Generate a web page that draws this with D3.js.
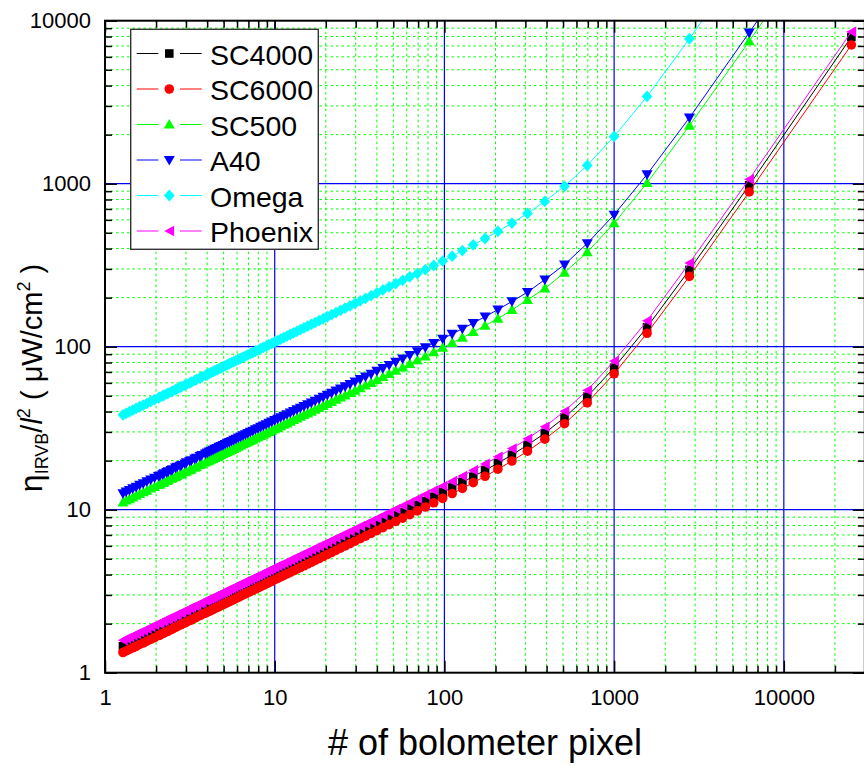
<!DOCTYPE html>
<html>
<head>
<meta charset="utf-8">
<script src="https://cdn.jsdelivr.net/npm/d3@7"></script>
<style>
  html, body { margin: 0; padding: 0; background: #fff; }
  svg { display: block; font-family: "Liberation Sans", Arial, sans-serif; }
</style>
</head>
<body>
<svg id="chart" width="864" height="766"></svg>
<script>
// Number of bolometer pixels (x) for each evaluated point
const pixelCounts = [
  25000, 6250, 2778, 1563, 1000, 694.4, 510.2, 390.6, 308.6, 250,
  206.6, 173.6, 147.9, 127.6, 111.1, 97.66, 86.51, 77.16, 69.25, 62.5,
  56.69, 51.65, 47.26, 43.40, 40, 36.98, 34.29, 31.89, 29.73, 27.78,
  26.01, 24.41, 22.96, 21.63, 20.41, 19.29, 18.26, 17.31, 16.44, 15.63,
  14.87, 14.17, 13.52, 12.91, 12.35, 11.81, 11.32, 10.85, 10.41, 10,
  9.612, 9.246, 8.900, 8.573, 8.264, 7.972, 7.695, 7.432, 7.182, 6.944,
  6.719, 6.504, 6.299, 6.104, 5.917, 5.739, 5.569, 5.407, 5.251, 5.102,
  4.959, 4.823, 4.691, 4.565, 4.444, 4.328, 4.217, 4.109, 4.006, 3.906,
  3.718, 3.629, 3.460, 3.380, 3.228, 3.156, 3.019, 2.954, 2.829, 2.770,
  2.657, 2.603, 2.500, 2.451, 2.356, 2.311, 2.225, 2.184, 2.104, 2.066,
  1.958, 1.858, 1.765, 1.680, 1.600, 1.526, 1.457, 1.392, 1.332, 1.276
];

// eta_IRVB / l^2 in uW/cm^2 for each camera
const sc4000 = [
  7950, 978, 296, 131.7, 74.3, 49.4, 36.8, 29.5, 24.9, 21.7,
  19.3, 17.46, 15.96, 14.73, 13.68, 12.79, 12.01, 11.32, 10.71, 10.17,
  9.67, 9.23, 8.82, 8.45, 8.11, 7.78, 7.50, 7.23, 6.98, 6.75,
  6.53, 6.32, 6.13, 5.95, 5.78, 5.62, 5.47, 5.33, 5.19, 5.06,
  4.94, 4.82, 4.71, 4.60, 4.50, 4.40, 4.31, 4.22, 4.13, 4.05,
  3.97, 3.89, 3.82, 3.75, 3.68, 3.61, 3.55, 3.49, 3.43, 3.37,
  3.32, 3.26, 3.21, 3.16, 3.11, 3.07, 3.02, 2.98, 2.93, 2.89,
  2.85, 2.81, 2.77, 2.73, 2.70, 2.66, 2.63, 2.59, 2.56, 2.53,
  2.47, 2.44, 2.38, 2.35, 2.30, 2.27, 2.22, 2.20, 2.15, 2.13,
  2.09, 2.07, 2.02, 2.00, 1.96, 1.95, 1.91, 1.89, 1.86, 1.84,
  1.79, 1.74, 1.70, 1.66, 1.62, 1.58, 1.54, 1.51, 1.48, 1.45
];
const sc6000 = [
  7100, 890, 270, 120.9, 68.2, 45.3, 33.7, 27.1, 22.85, 19.90,
  17.72, 16.03, 14.65, 13.52, 12.56, 11.74, 11.03, 10.39, 9.83, 9.33,
  8.88, 8.47, 8.10, 7.76, 7.44, 7.15, 6.88, 6.64, 6.41, 6.19,
  5.99, 5.81, 5.63, 5.46, 5.31, 5.16, 5.02, 4.89, 4.76, 4.64,
  4.53, 4.42, 4.32, 4.22, 4.13, 4.04, 3.95, 3.87, 3.79, 3.72,
  3.64, 3.57, 3.51, 3.44, 3.38, 3.32, 3.26, 3.20, 3.15, 3.10,
  3.05, 3.00, 2.95, 2.90, 2.86, 2.81, 2.77, 2.73, 2.69, 2.65,
  2.62, 2.58, 2.54, 2.51, 2.48, 2.44, 2.41, 2.38, 2.35, 2.32,
  2.27, 2.24, 2.19, 2.16, 2.11, 2.09, 2.04, 2.02, 1.98, 1.96,
  1.92, 1.90, 1.86, 1.84, 1.80, 1.79, 1.75, 1.74, 1.70, 1.69,
  1.64, 1.60, 1.56, 1.52, 1.49, 1.45, 1.42, 1.39, 1.36, 1.33
];
const sc500 = [
  60000, 7480, 2270, 1010, 572, 380, 285, 227.5, 194, 168,
  148.8, 134.6, 123.1, 113.6, 105.5, 98.6, 92.6, 87.3, 82.6, 78.4,
  74.6, 71.2, 68.0, 65.2, 62.5, 60.0, 57.8, 55.7, 53.8, 52.0,
  50.3, 48.8, 47.3, 45.9, 44.6, 43.3, 42.2, 41.1, 40.0, 39.0,
  38.1, 37.2, 36.3, 35.5, 34.7, 33.9, 33.2, 32.5, 31.8, 31.2,
  30.6, 30.0, 29.4, 28.9, 28.4, 27.9, 27.4, 26.9, 26.4, 26.0,
  25.6, 25.2, 24.8, 24.4, 24.0, 23.6, 23.3, 22.9, 22.6, 22.3,
  22.0, 21.7, 21.4, 21.1, 20.8, 20.5, 20.3, 20.0, 19.8, 19.5,
  19.0, 18.8, 18.4, 18.1, 17.7, 17.5, 17.1, 17.0, 16.6, 16.4,
  16.1, 15.9, 15.6, 15.5, 15.2, 15.0, 14.7, 14.6, 14.3, 14.2,
  13.8, 13.5, 13.1, 12.8, 12.5, 12.2, 11.9, 11.6, 11.4, 11.1
];
const a40 = [
  68000, 8450, 2540, 1140, 645, 430, 319, 258, 216, 189.5,
  168.9, 152.8, 139.7, 128.9, 119.7, 111.9, 105.1, 99.1, 93.7, 88.9,
  84.6, 80.8, 77.2, 73.9, 71.0, 68.1, 65.6, 63.2, 61.1, 59.0,
  57.1, 55.3, 53.7, 52.1, 50.6, 49.2, 47.9, 46.6, 45.4, 44.3,
  43.2, 42.2, 41.2, 40.2, 39.4, 38.5, 37.7, 36.9, 36.1, 35.4,
  34.7, 34.1, 33.4, 32.8, 32.2, 31.6, 31.1, 30.5, 30.0, 29.5,
  29.0, 28.6, 28.1, 27.7, 27.2, 26.8, 26.4, 26.0, 25.7, 25.3,
  24.9, 24.6, 24.3, 23.9, 23.6, 23.3, 23.0, 22.7, 22.4, 22.1,
  21.6, 21.3, 20.8, 20.6, 20.1, 19.9, 19.5, 19.2, 18.8, 18.6,
  18.3, 18.1, 17.7, 17.5, 17.2, 17.0, 16.7, 16.5, 16.2, 16.1,
  15.7, 15.3, 14.9, 14.5, 14.2, 13.8, 13.5, 13.2, 12.9, 12.6
];
const omega = [
  205000, 25800, 7750, 3430, 1950, 1295, 965, 779, 657, 573,
  510, 461, 421.5, 389, 359, 335, 315, 297, 281, 268.4,
  255.5, 243.7, 232.9, 223.1, 214.2, 205.5, 197.9, 190.9, 184.3, 178.1,
  172.4, 167.0, 161.9, 157.2, 152.7, 148.4, 144.4, 140.6, 137.0, 133.6,
  130.3, 127.2, 124.3, 121.5, 118.8, 116.2, 113.7, 111.3, 109.1, 106.9,
  104.8, 102.8, 100.8, 99.0, 97.2, 95.4, 93.8, 92.1, 90.6, 89.1,
  87.6, 86.2, 84.8, 83.5, 82.2, 81.0, 79.8, 78.6, 77.5, 76.3,
  75.3, 74.2, 73.2, 72.2, 71.3, 70.3, 69.4, 68.5, 67.6, 66.8,
  65.2, 64.4, 62.9, 62.1, 60.7, 60.0, 58.7, 58.1, 56.9, 56.3,
  55.1, 54.5, 53.4, 52.9, 51.9, 51.4, 50.4, 49.9, 49.0, 48.6,
  47.3, 46.1, 44.9, 43.8, 42.8, 41.8, 40.8, 39.9, 39.0, 38.2
];
const phoenix = [
  8550, 1065, 326, 144.1, 81.6, 54.0, 40.2, 32.3, 27.2, 23.7,
  21.1, 19.1, 17.46, 16.11, 14.97, 13.99, 13.14, 12.38, 11.72, 11.12,
  10.58, 10.09, 9.65, 9.24, 8.87, 8.51, 8.20, 7.91, 7.63, 7.38,
  7.14, 6.92, 6.71, 6.51, 6.32, 6.15, 5.98, 5.83, 5.68, 5.53,
  5.40, 5.27, 5.15, 5.03, 4.92, 4.81, 4.71, 4.61, 4.52, 4.43,
  4.34, 4.26, 4.18, 4.10, 4.02, 3.95, 3.88, 3.82, 3.75, 3.69,
  3.63, 3.57, 3.51, 3.46, 3.41, 3.35, 3.30, 3.26, 3.21, 3.16,
  3.12, 3.07, 3.03, 2.99, 2.95, 2.91, 2.87, 2.84, 2.80, 2.77,
  2.70, 2.67, 2.60, 2.57, 2.52, 2.49, 2.43, 2.41, 2.35, 2.33,
  2.28, 2.26, 2.21, 2.19, 2.15, 2.13, 2.09, 2.07, 2.03, 2.01,
  1.96, 1.91, 1.86, 1.81, 1.77, 1.73, 1.69, 1.65, 1.62, 1.58
];

const seriesNames = ["SC4000", "SC6000", "SC500", "A40", "Omega", "Phoenix"];
const xTickLabels = [1, 10, 100, 1000, 10000];
const yTickLabels = [1, 10, 100, 1000, 10000];

// ---- drawing ----
const seriesValues = [sc4000, sc6000, sc500, a40, omega, phoenix];
const seriesStyle = [
  { color: "#000000", symbol: "square" },
  { color: "#ff0000", symbol: "circle" },
  { color: "#00ff00", symbol: "triUp" },
  { color: "#0000ff", symbol: "triDown" },
  { color: "#00ffff", symbol: "diamond" },
  { color: "#ff00ff", symbol: "triLeft" }
];
const symbolPath = {
  square:  "M-4.3,-4.3H4.3V4.3H-4.3Z",
  circle:  "M-4.8,0A4.8,4.8 0 1,0 4.8,0A4.8,4.8 0 1,0 -4.8,0Z",
  triUp:   "M0,-5.6L5.5,4.1L-5.5,4.1Z",
  triDown: "M0,5.6L5.5,-4.1L-5.5,-4.1Z",
  diamond: "M0,-5.9L5.4,0L0,5.9L-5.4,0Z",
  triLeft: "M-5.1,0L4.8,-5.3L4.8,5.3Z"
};

const svg = d3.select("#chart");
const plot = { left: 105, top: 20.7, right: 864.8, bottom: 672.7 };
const x = d3.scaleLog().domain([1, 30000]).range([plot.left, plot.right]);
const y = d3.scaleLog().domain([1, 10000]).range([plot.bottom, plot.top]);

function minorValues(lo, hi) {
  const v = [];
  for (let d = lo; d < hi; d *= 10)
    for (let m = 2; m <= 9; m++) { const t = m * d; if (t < hi) v.push(t); }
  return v;
}
const xMinor = minorValues(1, 30000);
const yMinor = minorValues(1, 10000);
const xMajorGrid = xTickLabels.filter(v => v > 1);
const yMajorGrid = yTickLabels.filter(v => v > 1 && v < 10000);

// grid
const grid = svg.append("g");
grid.selectAll("line.xm").data(xMinor).join("line")
  .attr("x1", d => x(d)).attr("x2", d => x(d))
  .attr("y1", plot.top).attr("y2", plot.bottom)
  .attr("stroke", "#00ff00").attr("stroke-width", 1).attr("stroke-dasharray", "2.5,3");
grid.selectAll("line.ym").data(yMinor).join("line")
  .attr("x1", plot.left).attr("x2", plot.right)
  .attr("y1", d => y(d)).attr("y2", d => y(d))
  .attr("stroke", "#00ff00").attr("stroke-width", 1).attr("stroke-dasharray", "2.5,3");
grid.selectAll("line.xM").data(xMajorGrid).join("line")
  .attr("x1", d => x(d)).attr("x2", d => x(d))
  .attr("y1", plot.top).attr("y2", plot.bottom)
  .attr("stroke", "#0000ff").attr("stroke-width", 1.2);
grid.selectAll("line.yM").data(yMajorGrid).join("line")
  .attr("x1", plot.left).attr("x2", plot.right)
  .attr("y1", d => y(d)).attr("y2", d => y(d))
  .attr("stroke", "#0000ff").attr("stroke-width", 1.2);

// clip region for the data
svg.append("clipPath").attr("id", "plotClip").append("rect")
  .attr("x", plot.left).attr("y", plot.top)
  .attr("width", plot.right - plot.left).attr("height", plot.bottom - plot.top);

const dataLayer = svg.append("g").attr("clip-path", "url(#plotClip)");
const line = d3.line().x((d, i) => x(pixelCounts[i])).y(d => y(d));

seriesValues.forEach((vals, s) => {
  const st = seriesStyle[s];
  const g = dataLayer.append("g");
  g.append("path").attr("d", line(vals))
    .attr("fill", "none").attr("stroke", st.color).attr("stroke-width", 1);
  g.selectAll("path.m").data(vals).join("path")
    .attr("class", "m")
    .attr("d", symbolPath[st.symbol])
    .attr("transform", (d, i) => `translate(${x(pixelCounts[i])},${y(d)})`)
    .attr("fill", st.color);
});

// axes: inward ticks on all four sides
function styleAxis(g) {
  g.select(".domain").remove();
  g.selectAll(".tick line").attr("stroke", "#000").attr("stroke-width", 1.5);
  g.attr("font-family", '"Liberation Sans", Arial, sans-serif').attr("font-size", 22);
  g.selectAll(".tick text").attr("fill", "#000");
}
const fmt = d3.format("d");
svg.append("g").attr("transform", `translate(0,${plot.bottom})`)
  .call(d3.axisBottom(x).tickValues(xTickLabels).tickSizeInner(-12).tickSizeOuter(0).tickPadding(16.5).tickFormat(fmt))
  .call(styleAxis);
svg.append("g").attr("transform", `translate(0,${plot.bottom})`)
  .call(d3.axisBottom(x).tickValues(xMinor).tickSizeInner(-7).tickSizeOuter(0).tickFormat(""))
  .call(styleAxis);
svg.append("g").attr("transform", `translate(0,${plot.top})`)
  .call(d3.axisTop(x).tickValues(xTickLabels).tickSizeInner(-12).tickSizeOuter(0).tickFormat(""))
  .call(styleAxis);
svg.append("g").attr("transform", `translate(0,${plot.top})`)
  .call(d3.axisTop(x).tickValues(xMinor).tickSizeInner(-7).tickSizeOuter(0).tickFormat(""))
  .call(styleAxis);
svg.append("g").attr("transform", `translate(${plot.left},0)`)
  .call(d3.axisLeft(y).tickValues(yTickLabels).tickSizeInner(-12).tickSizeOuter(0).tickPadding(14).tickFormat(fmt))
  .call(styleAxis);
svg.append("g").attr("transform", `translate(${plot.left},0)`)
  .call(d3.axisLeft(y).tickValues(yMinor).tickSizeInner(-7).tickSizeOuter(0).tickFormat(""))
  .call(styleAxis);
svg.append("g").attr("transform", `translate(${plot.right},0)`)
  .call(d3.axisRight(y).tickValues(yTickLabels).tickSizeInner(-12).tickSizeOuter(0).tickFormat(""))
  .call(styleAxis);
svg.append("g").attr("transform", `translate(${plot.right},0)`)
  .call(d3.axisRight(y).tickValues(yMinor).tickSizeInner(-7).tickSizeOuter(0).tickFormat(""))
  .call(styleAxis);

// frame
svg.append("rect")
  .attr("x", plot.left).attr("y", plot.top)
  .attr("width", plot.right - plot.left).attr("height", plot.bottom - plot.top)
  .attr("fill", "none").attr("stroke", "#000").attr("stroke-width", 2);

// axis titles
svg.append("text")
  .attr("x", 485).attr("y", 755).attr("text-anchor", "middle")
  .attr("font-size", 36).attr("fill", "#000")
  .text("# of bolometer pixel");

const yTitle = svg.append("text")
  .attr("transform", "translate(42,378) rotate(-90)")
  .attr("text-anchor", "middle").attr("font-size", 29).attr("fill", "#000");
yTitle.append("tspan").attr("font-size", 32).text("η");
yTitle.append("tspan").attr("font-size", 18).attr("dy", 6).text("IRVB");
yTitle.append("tspan").attr("dy", -6).text("/");
yTitle.append("tspan").attr("font-style", "italic").text("l");
yTitle.append("tspan").attr("font-size", 18).attr("dy", -12).text("2");
yTitle.append("tspan").attr("dy", 12).text(" ( μW/cm");
yTitle.append("tspan").attr("font-size", 18).attr("dy", -12).text("2");
yTitle.append("tspan").attr("dy", 12).text(" )");

// legend
const legend = svg.append("g");
legend.append("rect")
  .attr("x", 130.7).attr("y", 29.3).attr("width", 187.6).attr("height", 220)
  .attr("fill", "#fff").attr("stroke", "#333").attr("stroke-width", 1.4);
seriesNames.forEach((name, i) => {
  const st = seriesStyle[i];
  const cy = 53.5 + i * 35.5;
  legend.append("line").attr("x1", 136.7).attr("x2", 158.3).attr("y1", cy).attr("y2", cy)
    .attr("stroke", st.color).attr("stroke-width", 1);
  legend.append("line").attr("x1", 180).attr("x2", 201.7).attr("y1", cy).attr("y2", cy)
    .attr("stroke", st.color).attr("stroke-width", 1);
  legend.append("path").attr("d", symbolPath[st.symbol])
    .attr("transform", `translate(169.3,${cy})`).attr("fill", st.color);
  legend.append("text").attr("x", 210).attr("y", cy + 11)
    .attr("font-size", 28.5).attr("fill", "#000").text(name);
});
</script>
</body>
</html>
